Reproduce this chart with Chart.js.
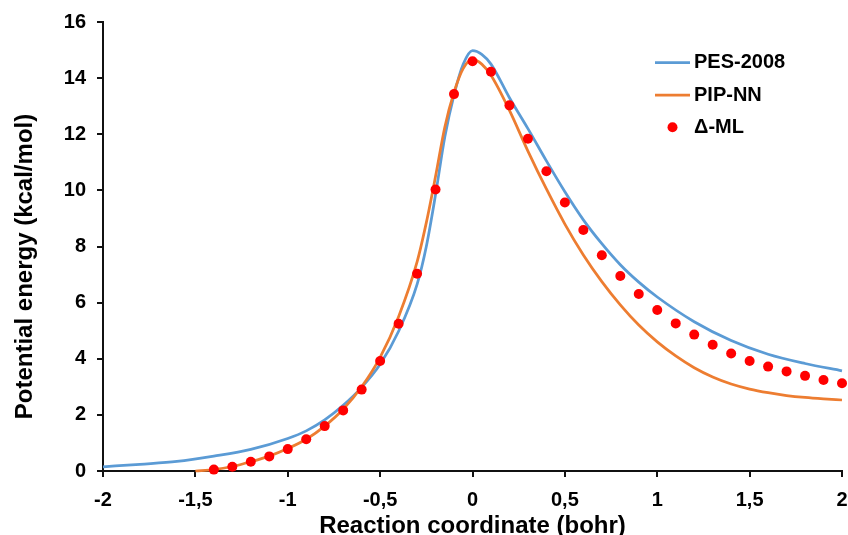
<!DOCTYPE html>
<html>
<head>
<meta charset="utf-8">
<script src="https://cdn.jsdelivr.net/npm/chart.js@4.4.1/dist/chart.umd.min.js"></script>
<style>
html,body{margin:0;padding:0;background:#ffffff;}
#wrap{width:848px;height:535px;}
canvas{display:block;}
</style>
</head>
<body>
<div id="wrap"><canvas id="c" width="848" height="535" style="width:848px;height:535px"></canvas></div>
<script>
// ---- data ----
const seriesNames = ['PES-2008', 'PIP-NN', '\u0394-ML'];

const pesX = [-2, -1.8, -1.6, -1.4, -1.2, -1.0, -0.9, -0.8, -0.7, -0.6, -0.5, -0.4, -0.3, -0.25, -0.2, -0.15, -0.1, -0.05, 0, 0.05, 0.1, 0.2, 0.3, 0.4, 0.5, 0.6, 0.7, 0.8, 0.9, 1.0, 1.2, 1.4, 1.6, 1.8, 2.0];
const pesY = [0.15, 0.24, 0.34, 0.53, 0.77, 1.16, 1.43, 1.82, 2.34, 2.98, 3.8, 4.98, 6.65, 8.0, 9.85, 11.9, 13.4, 14.5, 14.98, 14.85, 14.5, 13.3, 12.2, 11.05, 9.95, 8.95, 8.1, 7.35, 6.73, 6.2, 5.32, 4.65, 4.16, 3.83, 3.57];

const pipX = [-1.5, -1.4, -1.3, -1.2, -1.1, -1.0, -0.9, -0.8, -0.7, -0.6, -0.5, -0.4, -0.3, -0.25, -0.2, -0.15, -0.1, -0.05, 0, 0.05, 0.1, 0.2, 0.3, 0.4, 0.5, 0.6, 0.7, 0.8, 0.9, 1.0, 1.1, 1.2, 1.3, 1.4, 1.5, 1.6, 1.7, 1.8, 1.9, 2.0];
const pipY = [0.0, 0.05, 0.16, 0.33, 0.53, 0.8, 1.13, 1.6, 2.2, 3.0, 4.05, 5.5, 7.45, 8.85, 10.5, 12.25, 13.5, 14.35, 14.67, 14.5, 14.1, 12.85, 11.4, 10.05, 8.8, 7.7, 6.75, 5.92, 5.2, 4.6, 4.1, 3.68, 3.35, 3.1, 2.92, 2.79, 2.69, 2.62, 2.57, 2.53];

const mlX = [-1.4, -1.3, -1.2, -1.1, -1.0, -0.9, -0.8, -0.7, -0.6, -0.5, -0.4, -0.3, -0.2, -0.1, 0, 0.1, 0.2, 0.3, 0.4, 0.5, 0.6, 0.7, 0.8, 0.9, 1.0, 1.1, 1.2, 1.3, 1.4, 1.5, 1.6, 1.7, 1.8, 1.9, 2.0];
const mlY = [0.05, 0.15, 0.33, 0.52, 0.78, 1.13, 1.6, 2.16, 2.9, 3.92, 5.25, 7.03, 10.03, 13.43, 14.6, 14.23, 13.03, 11.84, 10.68, 9.57, 8.59, 7.69, 6.95, 6.31, 5.74, 5.26, 4.86, 4.5, 4.19, 3.92, 3.72, 3.55, 3.39, 3.24, 3.13];

const xTickLabels = ['-2', '-1,5', '-1', '-0,5', '0', '0,5', '1', '1,5', '2'];
const yTickLabels = ['0', '2', '4', '6', '8', '10', '12', '14', '16'];
const xTitle = 'Reaction coordinate (bohr)';
const yTitle = 'Potential energy (kcal/mol)';

// ---- helpers ----
const toPoints = (xs, ys) => xs.map((x, i) => ({x: x, y: ys[i]}));
const FONT = "'Liberation Sans', Arial, Helvetica, sans-serif";

const insideLegend = {
  id: 'insideLegend',
  afterDatasetsDraw(chart, args, opts) {
    const ctx = chart.ctx;
    ctx.save();
    ctx.font = opts.font;
    ctx.textBaseline = 'middle';
    ctx.textAlign = 'left';
    opts.order.forEach((di, row) => {
      const ds = chart.data.datasets[di];
      const y = opts.y + row * opts.rowGap;
      if (ds.showLine === false) {
        ctx.beginPath();
        ctx.arc((opts.x0 + opts.x1) / 2, y, ds.pointRadius, 0, Math.PI * 2);
        ctx.fillStyle = ds.pointBackgroundColor;
        ctx.fill();
      } else {
        ctx.beginPath();
        ctx.moveTo(opts.x0, y);
        ctx.lineTo(opts.x1, y);
        ctx.strokeStyle = ds.borderColor;
        ctx.lineWidth = ds.borderWidth;
        ctx.stroke();
      }
      ctx.fillStyle = opts.color;
      ctx.fillText(ds.label, opts.textX, y);
    });
    ctx.restore();
  }
};

const axisColor = '#111111';

new Chart(document.getElementById('c'), {
  type: 'scatter',
  data: {
    datasets: [
      {
        label: seriesNames[2],
        data: toPoints(mlX, mlY),
        showLine: false,
        pointRadius: 5,
        pointBackgroundColor: '#FF0000',
        pointBorderWidth: 0,
        pointBorderColor: '#FF0000',
        clip: false,
        order: 0
      },
      {
        label: seriesNames[1],
        data: toPoints(pipX, pipY),
        showLine: true,
        borderColor: '#ED7D31',
        borderWidth: 2.75,
        pointRadius: 0,
        cubicInterpolationMode: 'monotone',
        clip: false,
        order: 1
      },
      {
        label: seriesNames[0],
        data: toPoints(pesX, pesY),
        showLine: true,
        borderColor: '#5B9BD5',
        borderWidth: 2.75,
        pointRadius: 0,
        cubicInterpolationMode: 'monotone',
        clip: false,
        order: 2
      }
    ]
  },
  options: {
    responsive: false,
    animation: false,
    devicePixelRatio: 1,
    layout: { padding: { left: 0, right: 6, top: 22, bottom: 0 } },
    plugins: {
      legend: { display: false },
      tooltip: { enabled: false },
      insideLegend: {
        order: [2, 1, 0],
        x0: 655, x1: 690, textX: 694,
        y: 62.7, rowGap: 32.3,
        font: 'bold 20px ' + FONT,
        color: '#000000'
      }
    },
    scales: {
      x: {
        type: 'linear',
        min: -2, max: 2,
        afterFit: (s) => { s.height = 64; s.paddingLeft = 0; s.paddingRight = 0; },
        border: { display: true, color: axisColor, width: 2 },
        grid: { display: true, drawOnChartArea: false, drawTicks: true, tickLength: 6, color: axisColor, lineWidth: 2 },
        ticks: {
          stepSize: 0.5,
          padding: 11,
          color: '#000000',
          font: { family: FONT, size: 20, weight: 'bold' },
          maxRotation: 0,
          callback: (v, i) => xTickLabels[i]
        },
        title: {
          display: true,
          text: xTitle,
          color: '#000000',
          font: { family: FONT, size: 24, weight: 'bold', lineHeight: 0.9 },
          padding: { top: 0, bottom: -2 }
        }
      },
      y: {
        type: 'linear',
        min: 0, max: 16,
        afterFit: (s) => { s.width = 103; s.paddingTop = 0; s.paddingBottom = 0; },
        border: { display: true, color: axisColor, width: 2 },
        grid: { display: true, drawOnChartArea: false, drawTicks: true, tickLength: 6, color: axisColor, lineWidth: 2 },
        ticks: {
          stepSize: 2,
          padding: 11,
          color: '#000000',
          font: { family: FONT, size: 20, weight: 'bold' },
          callback: (v, i) => yTickLabels[i]
        },
        title: {
          display: true,
          text: yTitle + '\u00A0\u00A0\u00A0\u00A0\u00A0\u00A0',
          color: '#000000',
          font: { family: FONT, size: 24, weight: 'bold', lineHeight: 1 },
          padding: { top: 13, bottom: 0 }
        }
      }
    }
  },
  plugins: [insideLegend]
});
</script>
</body>
</html>
